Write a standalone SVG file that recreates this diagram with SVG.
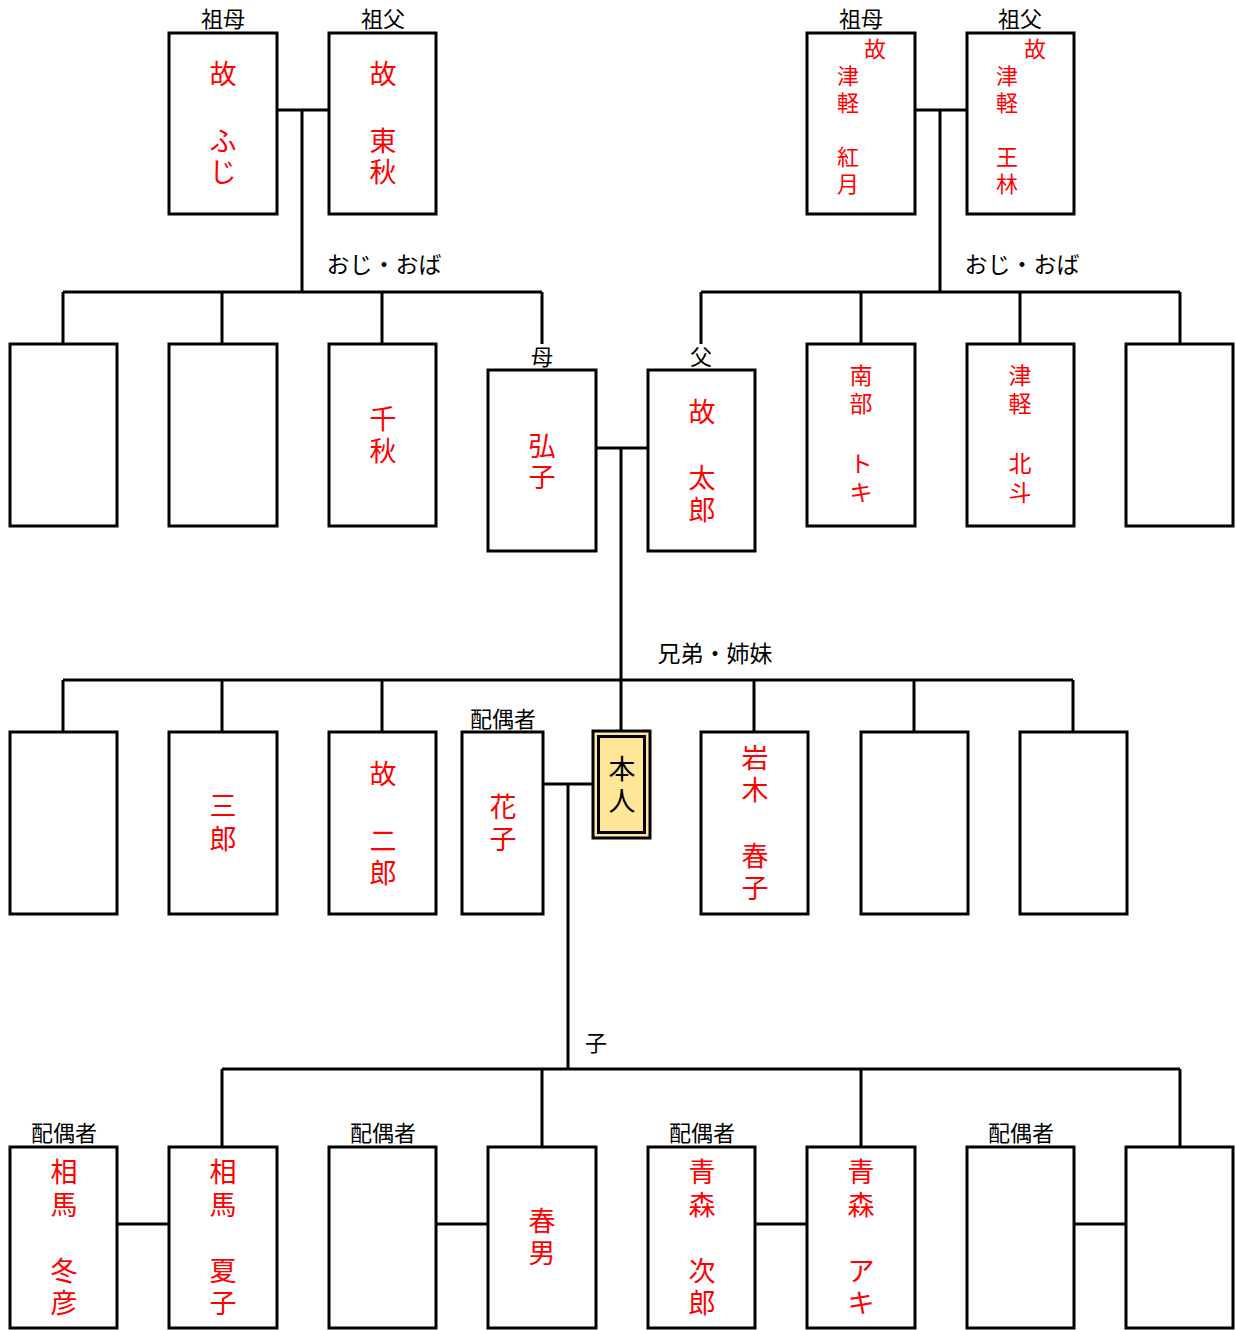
<svg xmlns="http://www.w3.org/2000/svg" width="1236" height="1330" viewBox="0 0 1236 1330">
<style>
.box{fill:#fff;stroke:#000;stroke-width:3}
.ln{stroke:#000;stroke-width:3;fill:none}
.lbl{font-family:"Noto Sans CJK JP","Noto Sans",sans-serif;font-size:22px;fill:#000;text-anchor:middle}
.nm{font-family:"Noto Sans CJK JP","Noto Sans",sans-serif;font-size:27px;fill:#f00;text-anchor:middle;dominant-baseline:central}
.sm{font-family:"Noto Sans CJK JP","Noto Sans",sans-serif;font-size:22px;fill:#f00;text-anchor:middle;dominant-baseline:central}
.me{font-family:"Noto Sans CJK JP","Noto Sans",sans-serif;font-size:27px;fill:#000;text-anchor:middle;dominant-baseline:central}
</style>
<rect width="1236" height="1330" fill="#fff"/>
<g id="connectors">
<path class="ln" d="M277 110H329M302 110V292M63 292H542M63 292V344M222 292V344M382 292V344M542 292V344"/>
<path class="ln" d="M915 110H967M940 110V292M701 292H1180M701 292V344M861 292V344M1020 292V344M1180 292V344"/>
<path class="ln" d="M596 448H648M621 448V730M63 680H1073M63 680V732M222 680V732M382 680V732M754 680V732M914 680V732M1073 680V732"/>
<path class="ln" d="M543 784H592M568 784V1069M222 1069H1180M222 1069V1147M542 1069V1147M861 1069V1147M1180 1069V1147"/>
<path class="ln" d="M117 1224H169M436 1224H488M755 1224H807M1074 1224H1126"/>
</g>
<g id="labels">
<text class="lbl" x="223" y="27">祖母</text>
<text class="lbl" x="383" y="27">祖父</text>
<text class="lbl" x="861" y="27">祖母</text>
<text class="lbl" x="1020" y="27">祖父</text>
<text class="lbl" x="384" y="273" style="font-size:23px">おじ・おば</text>
<text class="lbl" x="1022" y="273" style="font-size:23px">おじ・おば</text>
<text class="lbl" x="542" y="365">母</text>
<text class="lbl" x="701" y="365">父</text>
<text class="lbl" x="715" y="662" style="font-size:23px">兄弟・姉妹</text>
<text class="lbl" x="503" y="727">配偶者</text>
<text class="lbl" x="596" y="1051">子</text>
<text class="lbl" x="64" y="1141">配偶者</text>
<text class="lbl" x="383" y="1141">配偶者</text>
<text class="lbl" x="702" y="1141">配偶者</text>
<text class="lbl" x="1021" y="1141">配偶者</text>
</g>
<g id="gm1"><rect class="box" x="169" y="33" width="108" height="181"/>
<text class="nm"><tspan x="223" y="72">故</tspan><tspan x="223" y="139">ふ</tspan><tspan x="223" y="170">じ</tspan></text></g>
<g id="gf1"><rect class="box" x="329" y="33" width="107" height="181"/>
<text class="nm"><tspan x="383" y="72">故</tspan><tspan x="383" y="139">東</tspan><tspan x="383" y="170">秋</tspan></text></g>
<g id="gm2"><rect class="box" x="807" y="33" width="108" height="181"/>
<text class="sm"><tspan x="875" y="47">故</tspan><tspan x="848" y="74">津</tspan><tspan x="848" y="101">軽</tspan><tspan x="848" y="155">紅</tspan><tspan x="848" y="182">月</tspan></text></g>
<g id="gf2"><rect class="box" x="967" y="33" width="107" height="181"/>
<text class="sm"><tspan x="1035" y="47">故</tspan><tspan x="1007" y="74">津</tspan><tspan x="1007" y="101">軽</tspan><tspan x="1007" y="155">王</tspan><tspan x="1007" y="182">林</tspan></text></g>
<g id="u1"><rect class="box" x="10" y="344" width="107" height="182"/></g>
<g id="u2"><rect class="box" x="169" y="344" width="108" height="182"/></g>
<g id="u3"><rect class="box" x="329" y="344" width="107" height="182"/>
<text class="nm"><tspan x="383" y="417">千</tspan><tspan x="383" y="449">秋</tspan></text></g>
<g id="mother"><rect class="box" x="488" y="370" width="108" height="181"/>
<text class="nm"><tspan x="542" y="444">弘</tspan><tspan x="542" y="475">子</tspan></text></g>
<g id="father"><rect class="box" x="648" y="370" width="107" height="181"/>
<text class="nm"><tspan x="702" y="410">故</tspan><tspan x="702" y="476">太</tspan><tspan x="702" y="508">郎</tspan></text></g>
<g id="u4"><rect class="box" x="807" y="344" width="108" height="182"/>
<text class="sm" style="font-size:23px"><tspan x="861" y="374">南</tspan><tspan x="861" y="402">部</tspan><tspan x="861" y="462">ト</tspan><tspan x="861" y="491">キ</tspan></text></g>
<g id="u5"><rect class="box" x="967" y="344" width="107" height="182"/>
<text class="sm" style="font-size:23px"><tspan x="1020" y="374">津</tspan><tspan x="1020" y="402">軽</tspan><tspan x="1020" y="462">北</tspan><tspan x="1020" y="491">斗</tspan></text></g>
<g id="u6"><rect class="box" x="1126" y="344" width="107" height="182"/></g>
<g id="s1"><rect class="box" x="10" y="732" width="107" height="182"/></g>
<g id="s2"><rect class="box" x="169" y="732" width="108" height="182"/>
<text class="nm"><tspan x="223" y="804">三</tspan><tspan x="223" y="837">郎</tspan></text></g>
<g id="s3"><rect class="box" x="329" y="732" width="107" height="182"/>
<text class="nm"><tspan x="383" y="772">故</tspan><tspan x="383" y="839">二</tspan><tspan x="383" y="871">郎</tspan></text></g>
<g id="spouse"><rect class="box" x="462" y="732" width="81" height="182"/>
<text class="nm"><tspan x="503" y="805">花</tspan><tspan x="503" y="837">子</tspan></text></g>
<g id="self"><rect x="593" y="731" width="57" height="107" fill="#FFE699" stroke="#000" stroke-width="3"/>
<rect x="598.5" y="736.5" width="46" height="96" fill="#FFE699" stroke="#000" stroke-width="3"/>
<text class="me"><tspan x="622" y="767">本</tspan><tspan x="622" y="799">人</tspan></text></g>
<g id="s4"><rect class="box" x="701" y="732" width="107" height="182"/>
<text class="nm"><tspan x="755" y="756">岩</tspan><tspan x="755" y="788">木</tspan><tspan x="755" y="854">春</tspan><tspan x="755" y="886">子</tspan></text></g>
<g id="s5"><rect class="box" x="861" y="732" width="107" height="182"/></g>
<g id="s6"><rect class="box" x="1020" y="732" width="107" height="182"/></g>
<g id="c1s"><rect class="box" x="10" y="1147" width="107" height="181"/>
<text class="nm"><tspan x="64" y="1170">相</tspan><tspan x="64" y="1203">馬</tspan><tspan x="64" y="1269">冬</tspan><tspan x="64" y="1301">彦</tspan></text></g>
<g id="c1"><rect class="box" x="169" y="1147" width="108" height="181"/>
<text class="nm"><tspan x="223" y="1170">相</tspan><tspan x="223" y="1203">馬</tspan><tspan x="223" y="1269">夏</tspan><tspan x="223" y="1301">子</tspan></text></g>
<g id="c2s"><rect class="box" x="329" y="1147" width="107" height="181"/></g>
<g id="c2"><rect class="box" x="488" y="1147" width="108" height="181"/>
<text class="nm"><tspan x="542" y="1219">春</tspan><tspan x="542" y="1251">男</tspan></text></g>
<g id="c3s"><rect class="box" x="648" y="1147" width="107" height="181"/>
<text class="nm"><tspan x="702" y="1170">青</tspan><tspan x="702" y="1203">森</tspan><tspan x="702" y="1269">次</tspan><tspan x="702" y="1301">郎</tspan></text></g>
<g id="c3"><rect class="box" x="807" y="1147" width="108" height="181"/>
<text class="nm"><tspan x="861" y="1170">青</tspan><tspan x="861" y="1203">森</tspan><tspan x="861" y="1269">ア</tspan><tspan x="861" y="1301">キ</tspan></text></g>
<g id="c4s"><rect class="box" x="967" y="1147" width="107" height="181"/></g>
<g id="c4"><rect class="box" x="1126" y="1147" width="107" height="181"/></g>
</svg>
